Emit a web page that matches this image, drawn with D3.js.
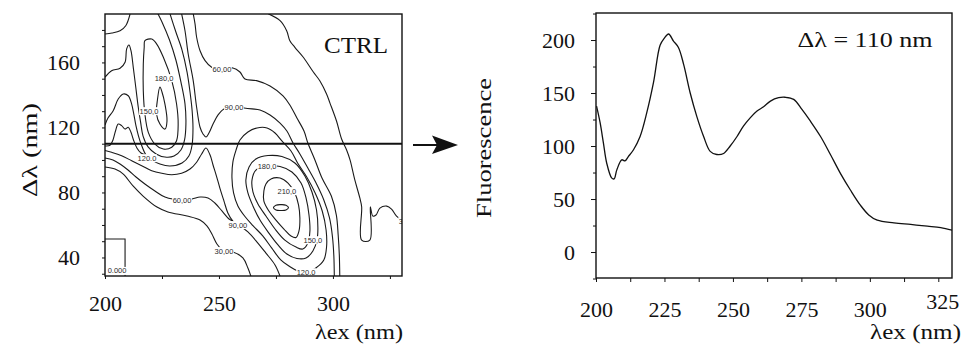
<!DOCTYPE html>
<html>
<head>
<meta charset="utf-8">
<script src="https://cdn.jsdelivr.net/npm/d3@7/dist/d3.min.js"></script>
<style>
  body { margin: 0; background: #fff; }
</style>
</head>
<body>
<svg id="chart" width="971" height="345"></svg>
<script>
// ---- right panel: synchronous spectrum at dl = 110 nm ----
const specX = [200.2, 201.5, 202.7, 203.9, 205.7, 206.6, 207.6, 209.4, 210.6, 211.8, 213.7, 216.1, 218.5, 221, 223.4, 224.9, 226.5, 228.3, 230.1, 232, 234.4, 236.8, 239.3, 241.7, 244.1, 246.6, 249, 251.5, 253.9, 256.3, 258.8, 261.2, 263.7, 266.7, 269.1, 272.2, 275.2, 278.3, 282, 285.6, 289.3, 292.9, 296.6, 299.6, 302.7, 308.8, 314.9, 321, 325.9, 330];
const specY = [137.7, 122, 103, 84, 70, 69, 77.5, 87, 86, 90, 96.5, 109, 131, 160, 195, 201.5, 205.7, 199, 193, 177, 150, 128, 109, 95, 92, 93, 100, 109, 119, 126.6, 133, 137, 142.4, 145.6, 146, 144, 134.5, 123.4, 109, 92, 74, 58.5, 44, 35, 30, 27.5, 26, 24.4, 23, 20.6];
const specXTicks = [200, 212.5, 225, 237.5, 250, 262.5, 275, 287.5, 300, 312.5, 325];
const specXLabels = [200, 225, 250, 275, 300, 325];
const specYTicks = [-25, 0, 25, 50, 75, 100, 125, 150, 175, 200, 225];
const specYLabels = [0, 50, 100, 150, 200];

// ---- left panel: contour map, points are [lambda ex, delta lambda] ----
const mapXTicks = [200, 225, 250, 275, 300, 325];
const mapXLabels = [200, 250, 300];
const mapYTicks = [30, 40, 50, 60, 70, 80, 90, 100, 110, 120, 130, 140, 150, 160, 170, 180];
const mapYLabels = [40, 80, 120, 160];
const scanLine = 110;

const c0 = [[200, 51.4], [208.8, 51.4], [208.8, 28.5]];
const c30a = [[200, 177.5], [203.1, 178.1], [206.6, 179.5], [209.1, 182.6], [211, 189.8]];
const c30b = [[200, 95.7], [204.4, 94.4], [207.9, 91.4], [212.3, 84], [216.7, 77.8], [222.8, 71], [227.6, 68], [236, 65.5], [241.7, 63], [244.7, 59.4], [246.9, 54.4], [249.1, 48.3], [252.2, 44], [256.1, 43.4], [260.5, 39.7], [262.7, 33.5], [264, 28.5]];
const c30c = [[271.6, 190], [276.8, 185.7], [279.7, 179.5], [281.1, 173.4], [283.3, 169.3], [287, 163.2], [291.4, 154.1], [294.3, 148.6], [297.2, 140.6], [298.7, 135], [301.6, 123.8], [303.8, 112.9], [306, 106.1], [307.5, 100], [309.6, 87.7], [311.8, 76.6], [312.6, 71.2], [312.6, 50.7], [316.2, 50.7], [316.4, 71.2], [317.5, 65.5], [318.9, 66.1], [320.6, 70.4], [323.6, 71.6], [325.7, 69.8], [327.9, 65.5], [331, 62.4]];
const c60a = [[238.7, 190], [239.5, 183.7], [240.2, 175.5], [241.7, 167.2], [243.9, 161.1], [246.8, 157], [251.3, 155.4], [256.1, 156.6], [259.2, 154.1], [261.4, 149.8], [266.5, 148.8], [272.4, 145.5], [278.1, 139.4], [281.1, 133.8], [284.2, 125.8], [287.3, 117.8], [289, 110.4], [292.1, 100], [295.2, 88.9], [299.3, 77.8], [301.5, 66.1], [302.3, 53.8], [302.8, 41.5], [303, 28.5]];
const c60b = [[200, 101.2], [203.5, 100], [206.6, 97.5], [210.1, 93.8], [213.6, 89.5], [217.5, 85.2], [221.9, 80.9], [226.3, 77.2], [233.8, 75.4], [238.2, 76], [241.7, 77.2], [245.2, 76.6], [248.2, 73.5], [251.3, 68.6], [254.4, 63.7], [256.1, 62.4]];
const c90a = [[233.6, 190], [235.1, 179.5], [236.5, 165.2], [238.7, 148.8], [240.2, 132.4], [241.7, 120.1], [243, 116], [244.3, 114.1], [245.6, 116.6], [247.4, 122.1], [249.6, 127.7], [252.2, 131.4], [256.1, 132.6], [261, 132], [264.5, 131.4], [268, 130.7], [272.4, 127.7], [276.8, 122.7], [279.8, 117.8], [282.5, 110.4], [285.5, 103.7], [289, 95], [292.6, 85.8], [296, 75.4], [298.5, 64.3], [299.8, 52.6], [300.4, 40.9], [300.6, 28.5]];
const c90b = [[200, 105.8], [202.9, 104.7], [207.3, 102.6], [211.7, 99.5], [216.1, 96.5], [220.5, 93.4], [224.9, 91.8], [229.3, 90.9], [233.6, 91.8], [237.3, 94.4], [240.2, 98.6], [242.4, 103.7], [244.3, 107.4], [246.1, 103], [247.4, 96.9], [248.9, 90.1], [250.4, 82.7], [252.2, 74.7], [253.9, 67.4], [256.1, 62.4], [259.2, 59.4], [262.7, 55.7], [266.7, 49.5], [270.6, 42.7], [274.6, 35.4], [276.8, 28.5]];
const c120a = [[200, 121.5], [201.3, 125.8], [203.6, 130.3], [205.8, 137.5], [208, 140.6], [210.2, 139.5], [211.7, 134.4], [212.7, 127.7], [213.6, 120.9], [214.7, 114.7], [216, 109.2], [218, 103], [220.6, 99.9], [224.1, 97.5], [228.5, 96.3], [233.8, 98.1], [236.8, 102.4], [238.2, 109.2], [238.6, 119.7], [238.2, 130.7], [237.3, 141.8], [236, 154.1], [233.8, 167.6], [231.1, 178.7], [228.5, 190]];
const c120b = [[200, 150.9], [202.9, 154.9], [206.6, 156.4], [208.8, 160.1], [209.5, 168.3], [210.5, 170.7], [211.4, 167.2], [212.4, 157], [213.5, 144.7], [214.6, 132.4], [215.6, 123.4], [216.7, 114.7], [218.9, 108], [222.4, 103.7], [226.3, 101.8], [230.3, 102.4], [233.3, 106.1], [234.9, 112.3], [235.5, 122.1], [235.1, 134.4], [233.3, 148], [231.1, 161.5], [228.3, 173.8], [225, 184.9], [223.2, 190]];
const c120c = [[200, 108.6], [202.2, 109], [203.5, 112.3], [204.6, 117.8], [205.8, 122.1], [207.3, 121.1], [208.8, 119], [210.2, 120.1], [211.4, 117], [212.5, 112.3], [214, 107.4], [215.8, 104.3], [218, 103]];
const c150L = [[217.5, 173.4], [220.5, 174.4], [222.7, 171.3], [225.6, 163.2], [229.3, 148.8], [231.4, 134.4], [232.1, 122.1], [231.4, 111.8], [229.3, 107.8], [225.6, 106.7], [221.9, 109.8], [219, 117], [217.5, 128.3], [216.8, 142.6], [216.8, 159], [217.2, 169.3]];
const c180L = [[224.1, 144.9], [223, 136.9], [222.6, 128.3], [224.1, 122.1], [226.3, 119], [227.2, 124], [226.3, 134.4], [225, 141.8]];
const c120R = [[257.5, 106.1], [259.2, 112.3], [262.7, 117.2], [266.7, 119.7], [271.1, 119.7], [274.6, 116.6], [277.6, 111.7], [281.6, 105.5], [284.5, 98.1], [288.5, 89.5], [292.2, 79.7], [295.3, 68.6], [297, 56.9], [297.2, 46.4], [296, 38.4], [292.5, 33.5], [289, 31], [284.6, 31.7], [280.7, 34.7], [277.1, 38.5], [273.1, 45.9], [269.2, 53.3], [264.9, 59.6], [261.4, 65.2], [258.3, 71.7], [256.4, 79.7], [255.7, 88.9], [256.1, 98.7]];
const c150R = [[261.8, 87.7], [263.2, 95.7], [266.2, 100.6], [271.5, 102.7], [277.6, 102.1], [283.3, 98.1], [287.7, 90.1], [290.8, 80.3], [292.8, 69.2], [293.4, 58.1], [293, 50.7], [291.2, 44], [288.2, 39.7], [284.2, 39.4], [279.8, 42.1], [275.9, 47.7], [271.9, 55], [268, 63], [264.9, 71.7], [262.7, 79.7]];
const c180R = [[264.5, 87.7], [266.2, 93.8], [270.6, 96], [276.8, 96], [282, 92.6], [286, 85.8], [288.2, 76.6], [289.5, 66.1], [289.9, 56.3], [289, 48.9], [286.8, 45.2], [283.8, 46.4], [278.9, 50.7], [274.6, 57.5], [270.6, 65.5], [267.1, 72.9], [264.9, 80.3]];
const c210R = [[270.6, 85.2], [272.8, 88.3], [276.8, 88.9], [280.3, 85.8], [283.3, 79.7], [284.9, 72.3], [285.5, 64.3], [285.1, 56.3], [283.8, 52.3], [281.6, 53.2], [278.5, 57.5], [275, 63], [271.9, 68.6], [269.7, 74.7], [269.7, 80.9]];
const c240R = [[273.9, 70.7], [275, 72.2], [277.2, 72.5], [279.4, 72.2], [280.5, 70.7], [279.4, 69.2], [277.2, 68.9], [275, 69.2]];

const openLines = [c30a, c30b, c30c, c60a, c60b, c90a, c90b, c120a, c120b, c120c];
const closedLines = [c150L, c180L, c120R, c150R, c180R, c210R, c240R];
const lineLabels = [
  [251.3, 156, "60,00"], [256.6, 132.6, "90,00"], [225.9, 150.4, "180,0"], [219.3, 130.1, "150,0"],
  [218.4, 101.2, "120.0"], [233.8, 75.4, "60,00"], [258.3, 60, "90,00"], [252.2, 44, "30,00"],
  [205.3, 31.8, "0.000"], [271.1, 96.3, "180,0"], [279.8, 80.9, "210,0"], [291.2, 50.7, "150,0"],
  [288.2, 31, "120.0"], [331.5, 62.4, "30,00"]
];

const svg = d3.select("#chart");
const serif = "'Liberation Serif', 'Times New Roman', serif";
const ink = "#111";

function styleAxis(g, size) {
  g.select(".domain").remove();
  g.selectAll("line").attr("stroke", ink);
  g.selectAll("text").attr("font-family", serif).attr("font-size", size).attr("fill", ink);
}

function title(x, y, txt, len, rot) {
  return svg.append("text")
    .attr("transform", rot ? `translate(${x},${y}) rotate(-90)` : `translate(${x},${y})`)
    .attr("font-family", serif).attr("font-size", 22).attr("fill", ink)
    .attr("textLength", len).attr("lengthAdjust", "spacingAndGlyphs")
    .text(txt);
}

// ================= left panel =================
const xL = d3.scaleLinear().domain([200, 330.3]).range([105, 402]);
const yL = d3.scaleLinear().domain([28.6, 189.8]).range([276, 14]);

svg.append("clipPath").attr("id", "clipL")
  .append("rect").attr("x", 105).attr("y", 14).attr("width", 297).attr("height", 262);

const gMap = svg.append("g").attr("clip-path", "url(#clipL)");
const openPath = d3.line().x(d => xL(d[0])).y(d => yL(d[1])).curve(d3.curveCatmullRom.alpha(0.5));
const closedPath = d3.line().x(d => xL(d[0])).y(d => yL(d[1])).curve(d3.curveCatmullRomClosed.alpha(0.5));
const stepPath = d3.line().x(d => xL(d[0])).y(d => yL(d[1]));

gMap.append("path").attr("d", stepPath(c0))
  .attr("fill", "none").attr("stroke", "#1a1a1a").attr("stroke-width", 1.1);
gMap.selectAll("path.open").data(openLines).enter().append("path")
  .attr("class", "open")
  .attr("d", openPath)
  .attr("fill", "none").attr("stroke", "#1a1a1a").attr("stroke-width", 1.1);
gMap.selectAll("path.closed").data(closedLines).enter().append("path")
  .attr("class", "closed")
  .attr("d", closedPath)
  .attr("fill", "none").attr("stroke", "#1a1a1a").attr("stroke-width", 1.1);

// contour labels with a white knock-out
const lab = gMap.selectAll("g.lab").data(lineLabels).enter().append("g")
  .attr("class", "lab")
  .attr("transform", d => `translate(${xL(d[0])},${yL(d[1])})`);
lab.append("text")
  .attr("text-anchor", d => d[0] > 330 ? "start" : "middle")
  .attr("x", d => d[0] > 330 ? -6 : 0)
  .attr("dy", "0.35em")
  .attr("font-family", "'Liberation Sans', Arial, sans-serif")
  .attr("font-size", 7.5).attr("fill", "#2a2a2a")
  .text(d => d[2]);
lab.each(function () {
  const g = d3.select(this);
  const b = g.select("text").node().getBBox();
  g.insert("rect", "text").attr("x", b.x - 0.5).attr("y", b.y + 0.5)
    .attr("width", b.width + 1).attr("height", b.height - 1).attr("fill", "#fff");
});

// scan line at dl = 110 nm
svg.append("line")
  .attr("x1", xL(200)).attr("x2", xL(330.3))
  .attr("y1", yL(scanLine)).attr("y2", yL(scanLine))
  .attr("stroke", ink).attr("stroke-width", 2);

svg.append("rect").attr("x", 105).attr("y", 14).attr("width", 297).attr("height", 262)
  .attr("fill", "none").attr("stroke", ink).attr("stroke-width", 1.4);

svg.append("g").attr("transform", "translate(105,0)")
  .call(d3.axisLeft(yL).tickValues(mapYTicks).tickSize(3).tickPadding(22)
    .tickFormat(d => mapYLabels.includes(d) ? d : ""))
  .call(g => styleAxis(g, 22));
svg.append("g").attr("transform", "translate(0,276)")
  .call(d3.axisBottom(xL).tickValues(mapXTicks).tickSize(3).tickPadding(16)
    .tickFormat(d => mapXLabels.includes(d) ? d : ""))
  .call(g => styleAxis(g, 22));

title(356, 53, "CTRL", 64).attr("text-anchor", "middle").attr("font-size", 24);
title(403, 339, "λex (nm)", 88).attr("text-anchor", "end");
title(37, 150, "Δλ (nm)", 94, true).attr("text-anchor", "middle");

// arrow between the panels
svg.append("line").attr("x1", 413).attr("x2", 438).attr("y1", 145).attr("y2", 145)
  .attr("stroke", ink).attr("stroke-width", 2);
svg.append("path").attr("d", "M458,145 L432,135.5 L437,145 L432,154 Z").attr("fill", ink);

// ================= right panel =================
const xR = d3.scaleLinear().domain([200, 330]).range([596, 952]);
const yR = d3.scaleLinear().domain([-24.5, 225.5]).range([278, 13]);

svg.append("clipPath").attr("id", "clipR")
  .append("rect").attr("x", 596).attr("y", 13).attr("width", 356).attr("height", 265);

svg.append("path")
  .datum(specX.map((x, i) => [x, specY[i]]))
  .attr("clip-path", "url(#clipR)")
  .attr("d", d3.line().x(d => xR(d[0])).y(d => yR(d[1])).curve(d3.curveCatmullRom.alpha(0.5)))
  .attr("fill", "none").attr("stroke", ink).attr("stroke-width", 1.3);

svg.append("rect").attr("x", 596).attr("y", 13).attr("width", 356).attr("height", 265)
  .attr("fill", "none").attr("stroke", ink).attr("stroke-width", 1.4);

svg.append("g").attr("transform", "translate(596,0)")
  .call(d3.axisLeft(yR).tickValues(specYTicks).tickSize(4).tickPadding(17)
    .tickFormat(d => specYLabels.includes(d) ? d : ""))
  .call(g => styleAxis(g, 22))
  .call(g => g.selectAll(".tick line").attr("x2", d => specYLabels.includes(d) ? -5 : -3));
svg.append("g").attr("transform", "translate(0,278)")
  .call(d3.axisBottom(xR).tickValues(specXTicks).tickSize(4).tickPadding(19)
    .tickFormat(d => specXLabels.includes(d) ? d : ""))
  .call(g => styleAxis(g, 22))
  .call(g => g.selectAll(".tick text").filter(d => d === 325).attr("dy", "0.35em").attr("dx", 4));

title(865, 47, "Δλ = 110 nm", 135).attr("text-anchor", "middle");
title(961, 339, "λex (nm)", 91).attr("text-anchor", "end");
title(491, 148, "Fluorescence", 140, true).attr("text-anchor", "middle");
</script>
</body>
</html>
